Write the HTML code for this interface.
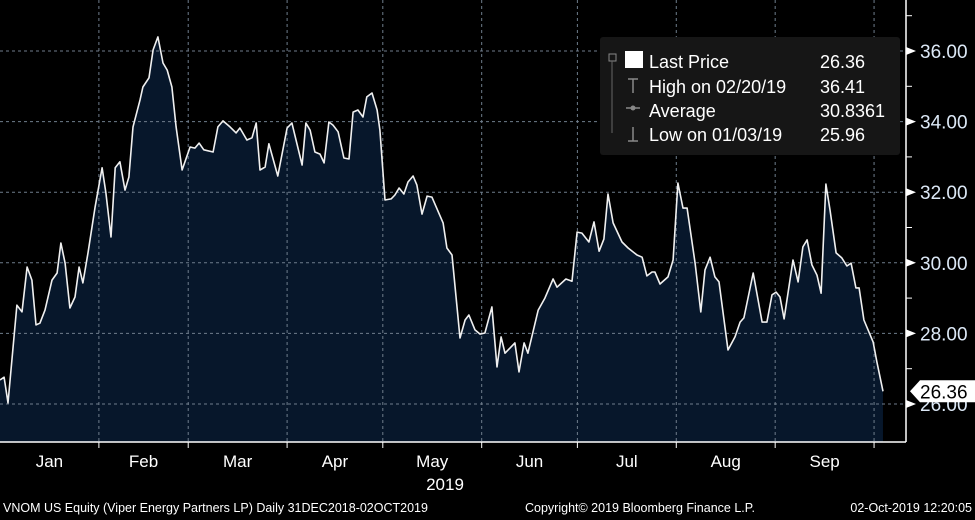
<!DOCTYPE html>
<html><head><meta charset="utf-8"><style>
html,body{margin:0;padding:0;background:#000;}
svg{display:block;font-family:"Liberation Sans",sans-serif;}
</style></head><body>
<svg id="chart" width="975" height="520" viewBox="0 0 975 520">
<rect x="0" y="0" width="975" height="520" fill="#000"/>
<g id="plot"></g>
<g id="axis"></g>
<g id="xaxis"></g>
<g>
<rect x="600" y="37" width="300" height="118" rx="3" fill="#161616"/>
<rect x="609" y="54" width="7" height="7" fill="none" stroke="#888" stroke-width="1"/>
<line x1="612" y1="61" x2="612" y2="133" stroke="#666"/>
<rect x="625" y="51" width="18" height="17" fill="#fff"/>
<text x="649" y="68" fill="#fff" font-size="18">Last Price</text>
<text x="820" y="68" fill="#fff" font-size="18">26.36</text>
<path d="M628 79 h10 M633 79 v14" stroke="#888" stroke-width="1.5"/>
<text x="649" y="93" fill="#fff" font-size="18">High on 02/20/19</text>
<text x="820" y="93" fill="#fff" font-size="18">36.41</text>
<path d="M626 108 h14" stroke="#888" stroke-width="1.5"/>
<circle cx="633" cy="108" r="2.5" fill="#888"/>
<text x="649" y="117" fill="#fff" font-size="18">Average</text>
<text x="820" y="117" fill="#fff" font-size="18">30.8361</text>
<path d="M633 127 v14 M628 141 h10" stroke="#888" stroke-width="1.5"/>
<text x="649" y="141" fill="#fff" font-size="18">Low on 01/03/19</text>
<text x="820" y="141" fill="#fff" font-size="18">25.96</text>
</g>
<g font-size="12.5" fill="#fff">
<text x="3" y="512">VNOM US Equity (Viper Energy Partners LP)  Daily 31DEC2018-02OCT2019</text>
<text x="525" y="512">Copyright© 2019 Bloomberg Finance L.P.</text>
<text x="972" y="512" text-anchor="end">02-Oct-2019 12:20:05</text>
</g>
</svg>
<script>
const days=[0,1.3,2.5,5.3,6.9,8.5,10,11.3,12.5,14.1,16.3,17.9,19.1,20.4,21.9,23.5,24.8,26,27.6,29.8,32,33.2,34.8,36.1,37.6,39.2,40.4,41.7,43.9,44.8,46.7,48,49.5,51.1,52.4,53.9,55.2,57.1,59.6,61.1,62.4,63.9,66.8,68.3,69.9,72.1,74,75.2,77.4,79,80.3,81.5,83.1,84.3,87.1,90,91.5,94.7,95.9,97.2,98.7,100.3,101.6,103.1,104.4,106,107.8,109.4,110.7,112.2,113.8,115,116.6,118.2,119.1,120.7,122.6,123.8,125.1,126.6,127.9,129.5,130.7,132.3,133.9,135.4,138.9,140.1,141.7,144.2,145.8,147,148.9,150.5,152,154.2,155.8,157.1,158.3,159.9,161.4,162.7,164.3,165.5,168.7,170.8,173.4,174.6,177.4,179.3,180.9,182.4,184.6,186.2,187.8,189.3,190.6,192.2,195,196.9,199.7,201.3,202.8,204.4,205.3,206.9,209.4,211,212.5,214.1,215.4,217.9,219.7,221,222.6,224.1,225.4,228.2,230.4,232,233.2,236.1,238.9,240.4,242,243.3,244.5,245.8,248.6,250.2,251.7,253,254.5,256.1,257.4,258.9,260.2,262.1,263.9,265.5,266.8,268.3,269.3,270.8,273.7,274.9,276.8];
const prices=[26.68,26.76,26.03,28.8,28.61,29.88,29.51,28.24,28.29,28.66,29.51,29.71,30.56,29.99,28.72,29.03,29.88,29.43,30.28,31.58,32.69,31.98,30.73,32.69,32.86,32.06,32.43,33.85,34.61,34.98,35.24,36.03,36.4,35.66,35.46,34.98,33.85,32.63,33.28,33.25,33.39,33.2,33.14,33.85,34.02,33.85,33.68,33.82,33.48,33.54,33.96,32.63,32.71,33.37,32.46,33.82,33.96,32.77,33.96,33.76,33.14,33.08,32.83,33.99,33.9,33.71,32.97,32.94,34.27,34.33,34.13,34.7,34.81,34.33,33.76,31.78,31.81,31.92,32.12,31.95,32.29,32.46,32.2,31.38,31.89,31.86,31.13,30.42,30.22,27.87,28.38,28.52,28.1,27.98,28.01,28.75,27.05,27.9,27.44,27.59,27.73,26.91,27.73,27.44,28.66,29,29.54,29.31,29.54,29.48,30.87,30.84,30.59,31.16,30.33,30.67,31.95,31.13,30.59,30.42,30.22,30.16,29.63,29.74,29.74,29.4,29.6,30.08,32.26,31.55,31.55,29.99,28.61,29.8,30.16,29.6,29.46,27.53,27.9,28.32,28.44,29.71,28.32,28.32,29.09,29.17,29.03,28.41,30.08,29.46,30.45,30.65,29.94,29.65,29.14,32.23,31.5,30.28,30.14,29.91,29.99,29.29,29.29,28.38,27.76,27.19,26.36];
const yTicks=[26,28,30,32,34,36];
const yTickLabels=["26.00","28.00","30.00","32.00","34.00","36.00"];
const monthStarts=[31,59,90,120,151,181,212,243,274];
const monthLabels=["Jan","Feb","Mar","Apr","May","Jun","Jul","Aug","Sep"];
const lastValue=26.36;

const NS="http://www.w3.org/2000/svg";
const X=d=>d*3.19;
const Y=v=>404-(v-26)*35.3;
const BOTTOM=442, AXISX=906;
function mk(tag,attrs,parent){const e=document.createElementNS(NS,tag);for(const k in attrs)e.setAttribute(k,attrs[k]);parent.appendChild(e);return e;}
const plot=document.getElementById('plot'),axis=document.getElementById('axis'),xaxis=document.getElementById('xaxis');

let pts=days.map((d,i)=>X(d).toFixed(1)+','+Y(prices[i]).toFixed(1));
const area=mk('path',{d:'M'+X(days[0])+','+BOTTOM+' L'+pts.join(' L')+' L'+X(days[days.length-1])+','+BOTTOM+' Z',fill:'#07172b'},plot);



yTicks.forEach((t,i)=>{
  const g=mk('line',{x1:0,x2:AXISX,y1:Y(t),y2:Y(t),stroke:'#6f7d8c','stroke-dasharray':'3,3','stroke-width':1},plot);
  
  
  const tri=mk('path',{d:`M${AXISX} ${Y(t)-4} L${AXISX+10} ${Y(t)} L${AXISX} ${Y(t)+4} Z`,fill:'#fff'},axis);
  
  
  const lb=mk('text',{x:920,y:Y(t)+7,fill:'#dce8f6','font-size':19},axis);
  lb.textContent=yTickLabels[i];
  
  
  const mn=mk('line',{x1:AXISX,x2:AXISX+6,y1:Y(t+1),y2:Y(t+1),stroke:'#fff'},axis);
  
  
});
monthStarts.forEach((d,i)=>{
  const g=mk('line',{x1:X(d),x2:X(d),y1:0,y2:BOTTOM,stroke:'#6f7d8c','stroke-dasharray':'3,3','stroke-width':1},plot);
  
  
  const tk=mk('line',{x1:X(d),x2:X(d),y1:BOTTOM,y2:BOTTOM+6,stroke:'#fff'},xaxis);
  
  
  const prev=i===0?0:monthStarts[i-1];
  const lb=mk('text',{x:(X(prev)+X(d))/2,y:467,fill:'#fff','font-size':17,'text-anchor':'middle'},xaxis);
  lb.textContent=monthLabels[i];
  
  
});
const yr=mk('text',{x:445,y:490,fill:'#fff','font-size':17,'text-anchor':'middle'},xaxis);
yr.textContent='2019';



const line=mk('polyline',{points:pts.join(' '),fill:'none',stroke:'#f0f0f0','stroke-width':1.6,'stroke-linejoin':'round'},plot);



const al=mk('line',{x1:AXISX,x2:AXISX,y1:0,y2:BOTTOM,stroke:'#fff','stroke-width':1.5},axis);


const bl=mk('line',{x1:0,x2:AXISX,y1:BOTTOM,y2:BOTTOM,stroke:'#fff','stroke-width':1.5},xaxis);



const ly=Y(lastValue);
const tag=mk('path',{d:`M${AXISX+4} ${ly} L${AXISX+14} ${ly-11} H975 V${ly+11} H${AXISX+14} Z`,fill:'#fff'},axis);


const tt=mk('text',{x:920,y:ly+7,fill:'#000','font-size':19},axis);
tt.textContent=lastValue.toFixed(2);


</script>
</body></html>
